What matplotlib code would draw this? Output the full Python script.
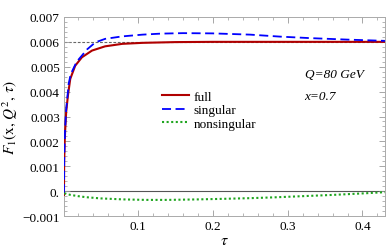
import numpy as np
import matplotlib
matplotlib.use("Agg")
import matplotlib.pyplot as plt
from matplotlib.ticker import MultipleLocator, FixedLocator, FixedFormatter

plt.rcParams['font.family'] = ['Liberation Serif', 'DejaVu Serif']
plt.rcParams['mathtext.fontset'] = 'stix'

# full curve
tau_full = [0.0010, 0.0013, 0.0020, 0.0027, 0.0040, 0.0063, 0.0094, 0.016, 0.025,
            0.0385, 0.056, 0.079, 0.106, 0.15, 0.20, 0.30, 0.43]
f_full = [-0.00015, 0.0012, 0.0020, 0.0025, 0.0032, 0.00384, 0.00451, 0.00504, 0.00538,
          0.00565, 0.00582, 0.00592, 0.00596, 0.00599, 0.00600, 0.00600, 0.00600]

# singular curve
tau_sing = [0.0010, 0.0013, 0.0020, 0.0027, 0.0040, 0.0063, 0.0072, 0.010, 0.018, 0.032,
            0.043, 0.056, 0.079, 0.106, 0.13, 0.16, 0.20, 0.25, 0.29, 0.33, 0.38, 0.43]
f_sing = [-0.00008, 0.0013, 0.0021, 0.0026, 0.0033, 0.0040, 0.0043, 0.0047, 0.0052, 0.0057,
          0.00598, 0.00612, 0.00622, 0.00629, 0.00633, 0.00635, 0.00634, 0.00629, 0.00621,
          0.00615, 0.00609, 0.00604]

# nonsingular curve
tau_ns = [0.0015, 0.005, 0.01, 0.02, 0.03, 0.05, 0.08, 0.11, 0.14, 0.18, 0.21, 0.25,
          0.28, 0.32, 0.36, 0.40, 0.43]
f_ns = [-0.00008, -0.00012, -0.00015, -0.0002, -0.00024, -0.00029, -0.00033, -0.00035,
        -0.00035, -0.00033, -0.00031, -0.00028, -0.00025, -0.0002, -0.00015, -0.00009,
        -0.00004]

y_ticks = [-0.001, 0.0, 0.001, 0.002, 0.003, 0.004, 0.005, 0.006, 0.007]
y_labels = ['\u22120.001', '0.', '0.001', '0.002', '0.003', '0.004', '0.005', '0.006', '0.007']
x_ticks = [0.1, 0.2, 0.3, 0.4]
x_labels = ['0.1', '0.2', '0.3', '0.4']

fig = plt.figure(figsize=(3.9, 2.53), dpi=100)
ax = fig.add_axes([0.164, 0.142, 0.823, 0.787])

ax.axhline(0, color='#555555', lw=0.8, zorder=1)
ax.axhline(0.006, color='#666666', lw=0.8, ls=(0, (2.5, 1.5)), zorder=1)

ax.plot(tau_full, f_full, color='#b00000', lw=1.5, label='full', zorder=3)
ax.plot(tau_sing, f_sing, color='#0000ff', lw=1.3, ls=(0, (5, 2.5)), label='singular', zorder=4)
ax.plot(tau_ns, f_ns, color='#1fa51f', lw=1.5, ls=(0, (1, 1.2)), label='nonsingular', zorder=4)

ax.set_xlim(0.001, 0.43)
ax.set_ylim(-0.001, 0.007)

ax.yaxis.set_major_locator(FixedLocator(y_ticks))
ax.yaxis.set_major_formatter(FixedFormatter(y_labels))
ax.yaxis.set_minor_locator(MultipleLocator(0.0002))
ax.xaxis.set_major_locator(FixedLocator(x_ticks))
ax.xaxis.set_major_formatter(FixedFormatter(x_labels))
ax.xaxis.set_minor_locator(MultipleLocator(0.02))

ax.tick_params(which='both', direction='in', top=True, right=True, color='#999999',
               labelsize=9.5, pad=3)
ax.tick_params(which='major', length=4, width=0.6)
ax.tick_params(which='minor', length=2, width=0.5)
for s in ax.spines.values():
    s.set_color('#aaaaaa')
    s.set_linewidth(0.7)

ax.set_xlabel(r'$\tau$', fontsize=11.5, labelpad=0)
ax.set_ylabel(r'$F_1(\mathrm{x},\,Q^2,\,\tau)$', fontsize=11, labelpad=2)

ax.legend(loc='center left', bbox_to_anchor=(161.7 / 390, 1 - 111 / 253),
          bbox_transform=fig.transFigure, frameon=False, fontsize=9.5,
          handlelength=2.1, handletextpad=0.3, labelspacing=0.1,
          borderpad=0, borderaxespad=0)

fig.text(305 / 390, 1 - 75 / 253, 'Q=80 GeV', fontsize=9.5, style='italic', va='center')
fig.text(304 / 390, 1 - 97 / 253, 'x=0.7', fontsize=9.5, style='italic', va='center')

fig.savefig('out.png', dpi=100)
